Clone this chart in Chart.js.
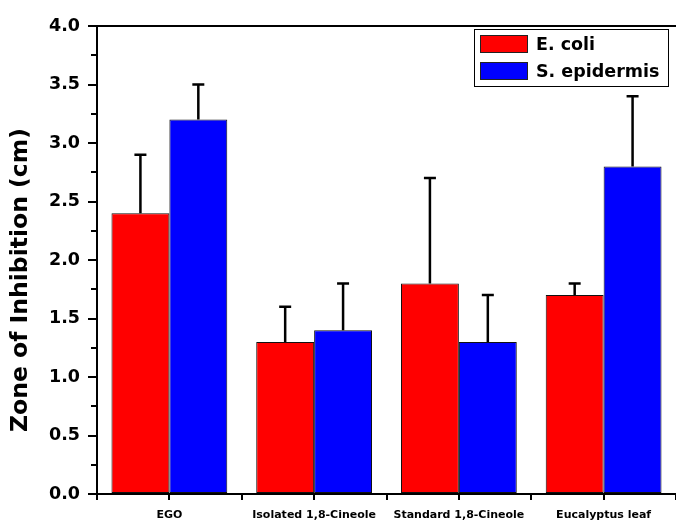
<!DOCTYPE html>
<html>
<head>
<meta charset="utf-8">
<script src="https://cdn.jsdelivr.net/npm/chart.js@4"></script>
<style>
  html, body { margin: 0; padding: 0; background: #fff; overflow: hidden; }
  #wrap { width: 676px; height: 521px; }
</style>
</head>
<body>
<div id="wrap"><canvas id="bar-chart" width="676" height="521"></canvas></div>
<script>
const categories = ["EGO", "Isolated 1,8-Cineole", "Standard 1,8-Cineole", "Eucalyptus leaf"];
const eColi = [2.4, 1.3, 1.8, 1.7];
const eColiErr = [0.5, 0.3, 0.9, 0.1];
const sEpi = [3.2, 1.4, 1.3, 2.8];
const sEpiErr = [0.3, 0.4, 0.4, 0.6];
const yMin = 0;
const yMax = 4.0;
const yStep = 0.5;
const yMinorStep = 0.25;
const yTitle = "Zone of Inhibition (cm)";

const FONT = "DejaVu Sans";

// error bars (upper half only), top border, minor ticks, y title, legend box
const extras = {
  id: "extras",
  afterDatasetsDraw(chart) {
    const ctx = chart.ctx;
    const y = chart.scales.y;
    ctx.save();
    ctx.strokeStyle = "#000";
    ctx.lineWidth = 2.5;
    chart.data.datasets.forEach((ds, di) => {
      const meta = chart.getDatasetMeta(di);
      meta.data.forEach((bar, i) => {
        const top = y.getPixelForValue(ds.data[i] + ds.errors[i]);
        ctx.beginPath();
        ctx.moveTo(bar.x, bar.y);
        ctx.lineTo(bar.x, top);
        ctx.moveTo(bar.x - 6, top);
        ctx.lineTo(bar.x + 6, top);
        ctx.stroke();
      });
    });
    ctx.restore();
  },
  afterDraw(chart) {
    const ctx = chart.ctx;
    const area = chart.chartArea;
    const x = chart.scales.x;
    const y = chart.scales.y;
    ctx.save();
    ctx.strokeStyle = "#000";
    ctx.lineWidth = 2;

    // top frame line
    ctx.beginPath();
    ctx.moveTo(area.left, area.top);
    ctx.lineTo(area.right, area.top);
    ctx.stroke();

    // minor y ticks
    for (let v = yMin + yMinorStep; v < yMax; v += yStep) {
      const py = Math.round(y.getPixelForValue(v));
      ctx.beginPath();
      ctx.moveTo(area.left, py);
      ctx.lineTo(area.left - 6, py);
      ctx.stroke();
    }

    // x ticks between categories
    const w = x.getPixelForValue(1) - x.getPixelForValue(0);
    for (let i = 0; i <= categories.length; i++) {
      const px = Math.round(x.getPixelForValue(0) - w / 2 + i * w);
      ctx.beginPath();
      ctx.moveTo(px, area.bottom);
      ctx.lineTo(px, area.bottom + 6);
      ctx.stroke();
    }

    // y axis title
    ctx.fillStyle = "#000";
    ctx.font = "bold 23.5px '" + FONT + "'";
    ctx.textAlign = "center";
    ctx.textBaseline = "middle";
    ctx.translate(21, 280);
    ctx.rotate(-Math.PI / 2);
    ctx.fillText(yTitle, 0, 0);
    ctx.restore();

    // legend
    ctx.save();
    ctx.fillStyle = "#fff";
    ctx.fillRect(474, 29, 194, 57);
    ctx.strokeStyle = "#000";
    ctx.lineWidth = 1;
    ctx.strokeRect(474.5, 29.5, 194, 57);
    ctx.font = "bold 17.5px '" + FONT + "'";
    ctx.textAlign = "left";
    ctx.textBaseline = "middle";
    chart.data.datasets.forEach((ds, di) => {
      const top = 35 + di * 27;
      ctx.fillStyle = ds.backgroundColor;
      ctx.fillRect(480, top, 48, 18);
      ctx.strokeStyle = "#222";
      ctx.strokeRect(480.5, top + 0.5, 47, 17);
      ctx.fillStyle = "#000";
      ctx.fillText(ds.label, 536, top + 10);
    });
    ctx.restore();
  }
};

const ctx = document.getElementById("bar-chart").getContext("2d");

const myChart = new Chart(ctx, {
  type: "bar",
  data: {
    labels: categories,
    datasets: [
      {
        label: "E. coli",
        data: eColi,
        errors: eColiErr,
        backgroundColor: "#ff0000",
        borderColor: "#111",
        borderWidth: 1,
        borderSkipped: false,
      },
      {
        label: "S. epidermis",
        data: sEpi,
        errors: sEpiErr,
        backgroundColor: "#0000ff",
        borderColor: "#111",
        borderWidth: 1,
        borderSkipped: false,
      },
    ],
  },
  options: {
    responsive: false,
    animation: false,
    layout: { padding: { top: 26, right: 0, left: 0, bottom: 0 } },
    datasets: { bar: { categoryPercentage: 0.8, barPercentage: 1.0 } },
    plugins: {
      legend: { display: false },
      tooltip: { enabled: false },
    },
    scales: {
      x: {
        offset: true,
        grid: {
          offset: false,
          drawOnChartArea: false,
          tickLength: 6,
          color: "#000",
          lineWidth: 2,
        },
        border: { color: "#000", width: 2 },
        ticks: {
          color: "#000",
          padding: 9,
          maxRotation: 0,
          autoSkip: false,
          font: { family: FONT, size: 11, weight: "bold" },
        },
        afterFit: (scale) => { scale.height = 27; },
      },
      y: {
        min: yMin,
        max: yMax,
        grid: {
          drawOnChartArea: false,
          tickLength: 9,
          color: "#000",
          lineWidth: 2,
        },
        border: { color: "#000", width: 2 },
        ticks: {
          stepSize: yStep,
          color: "#000",
          padding: 8,
          font: { family: FONT, size: 17.5, weight: "bold" },
          callback: (v) => Number(v).toFixed(1),
        },
        afterFit: (scale) => { scale.width = 97; },
      },
    },
  },
  plugins: [extras],
});
</script>
</body>
</html>
